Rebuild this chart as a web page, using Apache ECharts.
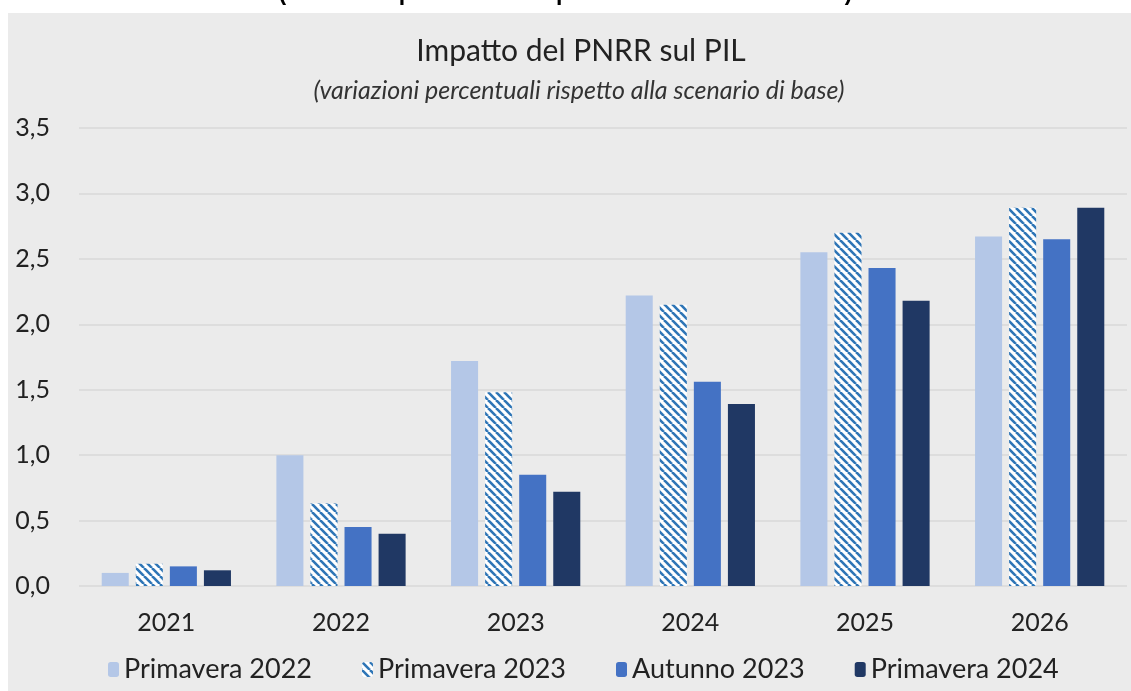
<!DOCTYPE html>
<html>
<head>
<meta charset="utf-8">
<script src="https://cdn.jsdelivr.net/npm/echarts@6/dist/echarts.min.js"></script>
<style>
  html, body { margin: 0; padding: 0; background: #fff; }
  #chart { width: 1131px; height: 691px; }
</style>
</head>
<body>
<div id="chart"></div>
<script>
// dati
const anni = ['2021', '2022', '2023', '2024', '2025', '2026']
const primavera2022 = [0.10, 1.00, 1.72, 2.22, 2.55, 2.67]
const primavera2023 = [0.17, 0.63, 1.48, 2.15, 2.70, 2.89]
const autunno2023 = [0.15, 0.45, 0.85, 1.56, 2.43, 2.65]
const primavera2024 = [0.12, 0.40, 0.72, 1.39, 2.18, 2.89]
const yTicks = [0, 0.5, 1, 1.5, 2, 2.5, 3, 3.5]

const font = 'Lato, "Open Sans", sans-serif'

// tratteggio diagonale per Primavera 2023
function makeStripes() {
    const c = document.createElement('canvas')
    c.width = 8
    c.height = 8
    const ctx = c.getContext('2d')
    ctx.fillStyle = '#ffffff'
    ctx.fillRect(0, 0, 8, 8)
    ctx.strokeStyle = '#2E75B6'
    ctx.lineWidth = 2.6
    for (let k = -8; k <= 8; k += 8) {
        ctx.beginPath()
        ctx.moveTo(k, 0)
        ctx.lineTo(k + 8, 8)
        ctx.stroke()
    }
    return c
}
const stripes = { image: makeStripes(), repeat: 'repeat' }

const chart = echarts.init(document.getElementById('chart'))

function barSeries(name, data, color) {
    return {
        name: name,
        type: 'bar',
        data: data,
        barGap: '26%',
        barCategoryGap: '26%',
        itemStyle: { color: color },
        emphasis: { disabled: true }
    }
}

chart.setOption({
    backgroundColor: '#ffffff',
    animation: false,
    textStyle: { fontFamily: font },
    graphic: [{
        type: 'rect',
        shape: { x: 8, y: 13, width: 1123, height: 678 },
        style: { fill: '#EBEBEB' },
        z: -10
    }, {
        type: 'text',
        left: 'center',
        top: -18,
        style: {
            text: '(variazioni percentuali rispetto allo scenario di base)',
            font: 'bold 23px "Liberation Sans", Arial, sans-serif',
            fill: '#000'
        },
        z: -20
    }],
    title: [{
        text: 'Impatto del PNRR sul PIL',
        left: 576,
        textAlign: 'center',
        top: 31,
        textStyle: { fontFamily: font, fontSize: 30, fontWeight: 'normal', color: '#222' }
    }, {
        text: '(variazioni percentuali rispetto alla scenario di base)',
        left: 574,
        textAlign: 'center',
        top: 73,
        textStyle: { fontFamily: font, fontSize: 25, fontStyle: 'italic', fontWeight: 'normal', color: '#333' }
    }],
    legend: {
        bottom: 3,
        left: 103,
        itemWidth: 11,
        itemHeight: 15,
        itemGap: 50,
        textStyle: { fontFamily: font, fontSize: 27, color: '#222' },
        data: ['Primavera 2022', 'Primavera 2023', 'Autunno 2023', 'Primavera 2024']
    },
    grid: { left: 79, right: 4, top: 128, bottom: 105, containLabel: false },
    xAxis: {
        type: 'category',
        data: anni,
        axisLine: { show: false },
        axisTick: { show: false },
        axisLabel: { fontFamily: font, fontSize: 25, color: '#222', margin: 24 }
    },
    yAxis: {
        type: 'value',
        min: yTicks[0],
        max: yTicks[yTicks.length - 1],
        interval: 0.5,
        axisLine: { show: false },
        axisTick: { show: false },
        splitLine: { lineStyle: { color: '#D9D9D9', width: 1.5 } },
        axisLabel: {
            fontFamily: font, fontSize: 25, color: '#222', margin: 29,
            formatter: v => v.toFixed(1).replace('.', ',')
        }
    },
    series: [
        barSeries('Primavera 2022', primavera2022, '#B4C7E7'),
        barSeries('Primavera 2023', primavera2023, stripes),
        barSeries('Autunno 2023', autunno2023, '#4472C4'),
        barSeries('Primavera 2024', primavera2024, '#203864')
    ]
})
</script>
</body>
</html>
